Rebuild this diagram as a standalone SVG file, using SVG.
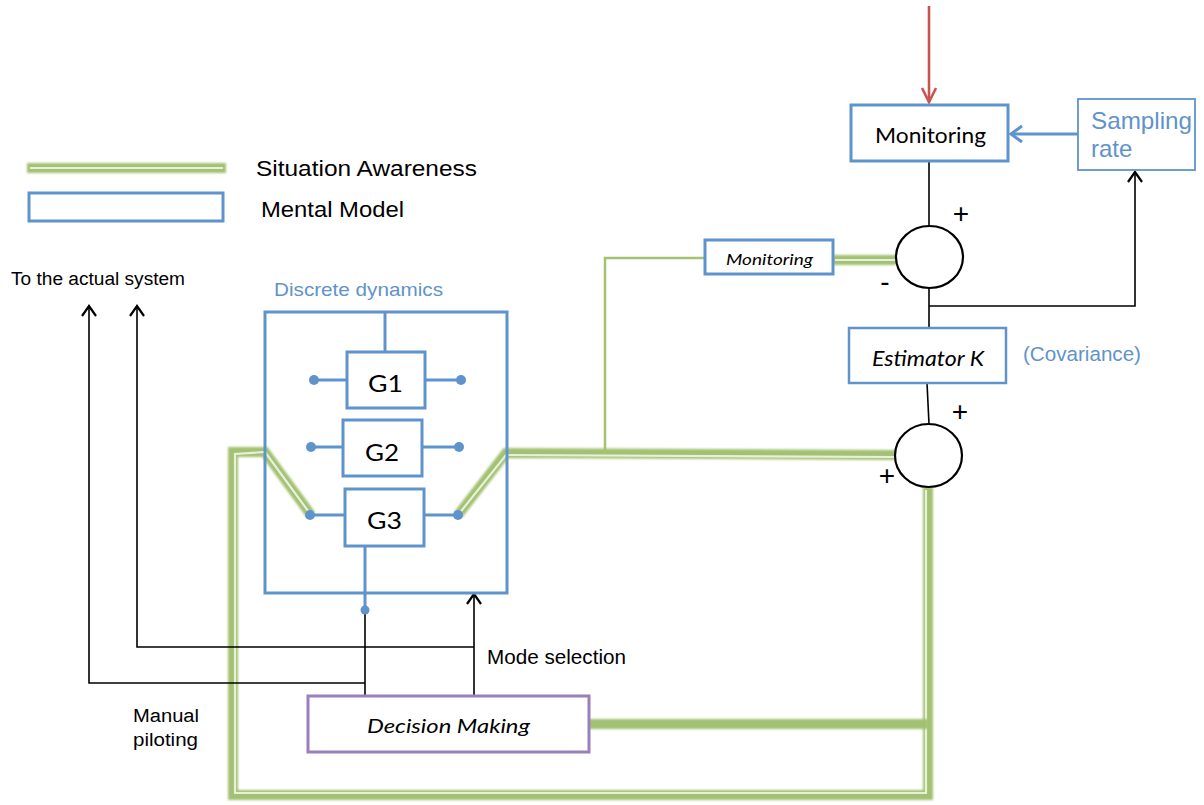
<svg xmlns="http://www.w3.org/2000/svg" width="1204" height="805" viewBox="0 0 1204 805">
  <style>
    .sans { font-family: "Liberation Sans", Arial, sans-serif; }
    .cal { font-family: Lato, "Open Sans", sans-serif; }
    .blue-box { fill: #ffffff; stroke: #5f93cc; stroke-width: 3; }
    .thin-blue { fill: #ffffff; stroke: #5f93cc; stroke-width: 1.8; }
    .blue-line { fill: none; stroke: #5f93cc; stroke-width: 3; }
    .dot { fill: #5f93cc; }
    .wire { fill: none; stroke: #000000; stroke-width: 1.6; }
    .sum { fill: #ffffff; stroke: #000000; stroke-width: 2.2; }
    .sign { font-family: "Liberation Sans", Arial, sans-serif; font-size: 28px; text-anchor: middle; }
    .sa-outer { fill: none; stroke: #a3c172; stroke-width: 10; stroke-linejoin: miter; filter: url(#soft); }
    .sa-inner { fill: none; stroke: #e8f0db; stroke-width: 2.2; stroke-linejoin: miter; }
    .sa-thin { fill: none; stroke: #a3c46f; stroke-width: 2.5; }
  </style>
  <defs>
    <filter id="soft" filterUnits="userSpaceOnUse" x="0" y="0" width="1204" height="805">
      <feGaussianBlur stdDeviation="1.3"/>
    </filter>
    <marker id="chev" markerUnits="userSpaceOnUse" markerWidth="20" markerHeight="20" refX="0" refY="0" viewBox="-12 -10 14 20" orient="auto">
      <path d="M-10,-7 L0,0 L-10,7" fill="none" stroke="#000000" stroke-width="2.2"/>
    </marker>
    <marker id="chev-red" markerUnits="userSpaceOnUse" markerWidth="20" markerHeight="20" refX="0" refY="0" viewBox="-16 -10 18 20" orient="auto">
      <path d="M-14,-7 L0,0 L-14,7" fill="none" stroke="#c9534f" stroke-width="2.6"/>
    </marker>
    <marker id="chev-blue" markerUnits="userSpaceOnUse" markerWidth="20" markerHeight="20" refX="0" refY="0" viewBox="-14 -10 16 20" orient="auto">
      <path d="M-11,-8 L0,0 L-11,8" fill="none" stroke="#5f93cc" stroke-width="3"/>
    </marker>
  </defs>

  <rect width="1204" height="805" fill="#ffffff"/>

  <!-- legend -->
  <g id="legend">
    <line class="sa-outer" x1="27" y1="168" x2="226" y2="168"/>
    <line class="sa-inner" x1="30" y1="168" x2="223" y2="168"/>
    <text class="sans" x="256" y="176" font-size="22" textLength="221" lengthAdjust="spacingAndGlyphs">Situation Awareness</text>
    <rect x="29" y="193" width="194" height="28" class="blue-box"/>
    <text class="sans" x="261" y="217" font-size="22" textLength="143" lengthAdjust="spacingAndGlyphs">Mental Model</text>
  </g>

  <!-- situation awareness paths -->
  <g id="situation-awareness">
    <path class="sa-outer" d="M311,515 L265,452 L233,452 L233,795 L928,795 L928,487"/>
    <path class="sa-inner" d="M311,515 L265,452 L235,454 L235,793 L926,793 L926,490"/>
    <path class="sa-outer" d="M458,515 L506,453 L895,455"/>
    <path class="sa-inner" d="M458,515 L506,455 L895,457"/>
    <path class="sa-outer" d="M589,724 L928,724"/>
    <path class="sa-thin" d="M605,454 L605,258 L705,258"/>
    <path class="sa-outer" d="M833,260 L896,260"/>
    <path class="sa-inner" d="M835,260 L896,260"/>
  </g>

  <!-- black signal connectors -->
  <g id="connectors">
    <path class="wire" d="M365,610 L365,696"/>
    <path class="wire" d="M365,683 L89,683 L89,306" marker-end="url(#chev)"/>
    <path class="wire" d="M474,696 L474,594" marker-end="url(#chev)"/>
    <path class="wire" d="M474,647 L137,647 L137,306" marker-end="url(#chev)"/>
    <path class="wire" d="M929,161 L929,226"/>
    <path class="wire" d="M929,288 L929,328"/>
    <path class="wire" d="M929,306 L1135,306 L1135,172" marker-end="url(#chev)"/>
    <path class="wire" d="M927,383 L929,424"/>
    <path d="M929,6 L929,102" fill="none" stroke="#c9534f" stroke-width="2.6" marker-end="url(#chev-red)"/>
    <path d="M1078,134 L1011,134" fill="none" stroke="#5f93cc" stroke-width="3.2" marker-end="url(#chev-blue)"/>
  </g>

  <text class="sans" x="11" y="285" font-size="18" textLength="174" lengthAdjust="spacingAndGlyphs">To the actual system</text>
  <text class="sans" x="487" y="664" font-size="19.5" textLength="139" lengthAdjust="spacingAndGlyphs">Mode selection</text>
  <text class="sans" x="133" y="722" font-size="18" textLength="66" lengthAdjust="spacingAndGlyphs">Manual</text>
  <text class="sans" x="133" y="746" font-size="18" textLength="65" lengthAdjust="spacingAndGlyphs">piloting</text>

  <!-- discrete dynamics -->
  <g id="discrete-dynamics">
    <text class="sans" x="274" y="296" font-size="19" fill="#5f93cc" textLength="169" lengthAdjust="spacingAndGlyphs">Discrete dynamics</text>
    <rect x="265" y="312" width="242" height="281" fill="none" stroke="#5f93cc" stroke-width="3"/>
    <line class="blue-line" x1="385" y1="312" x2="385" y2="352"/>
    <line class="blue-line" x1="365" y1="546" x2="365" y2="610"/>
    <circle class="dot" cx="365" cy="610" r="4.5"/>
  </g>

  <g id="g1">
    <line class="blue-line" x1="314" y1="380" x2="461" y2="380"/>
    <circle class="dot" cx="314" cy="380" r="5"/>
    <circle class="dot" cx="461" cy="380" r="5"/>
    <rect x="347" y="352" width="78" height="56" class="blue-box"/>
    <text class="cal" x="368" y="392" font-size="24" textLength="35" lengthAdjust="spacingAndGlyphs">G1</text>
  </g>

  <g id="g2">
    <line class="blue-line" x1="311" y1="447" x2="459" y2="447"/>
    <circle class="dot" cx="311" cy="447" r="5"/>
    <circle class="dot" cx="459" cy="447" r="5"/>
    <rect x="343" y="420" width="79" height="56" class="blue-box"/>
    <text class="cal" x="365" y="461" font-size="24" textLength="34" lengthAdjust="spacingAndGlyphs">G2</text>
  </g>

  <g id="g3">
    <line class="blue-line" x1="310" y1="515" x2="458" y2="515"/>
    <circle class="dot" cx="310" cy="515" r="5"/>
    <circle class="dot" cx="458" cy="515" r="5"/>
    <rect x="345" y="489" width="79" height="57" class="blue-box"/>
    <text class="cal" x="367" y="529" font-size="24" textLength="35" lengthAdjust="spacingAndGlyphs">G3</text>
  </g>

  <!-- decision making -->
  <g id="decision-making">
    <rect x="308" y="696" width="281" height="56" fill="#ffffff" stroke="#9a80b8" stroke-width="3"/>
    <text class="cal" x="367" y="733" font-size="20" font-style="italic" textLength="163" lengthAdjust="spacingAndGlyphs">Decision Making</text>
  </g>

  <!-- monitoring chain -->
  <g id="monitoring">
    <rect x="851" y="105" width="157" height="56" class="blue-box"/>
    <text class="cal" x="875" y="143" font-size="22" textLength="111" lengthAdjust="spacingAndGlyphs">Monitoring</text>
  </g>

  <g id="sampling-rate">
    <rect x="1078" y="99" width="117" height="71" class="thin-blue"/>
    <text class="sans" x="1091" y="129" font-size="24" fill="#5f93cc" textLength="101" lengthAdjust="spacingAndGlyphs">Sampling</text>
    <text class="sans" x="1091" y="157" font-size="24" fill="#5f93cc">rate</text>
  </g>

  <g id="monitoring-small">
    <rect x="705" y="240" width="128" height="34" class="blue-box"/>
    <text class="cal" x="726" y="265" font-size="16" font-style="italic" textLength="87" lengthAdjust="spacingAndGlyphs">Monitoring</text>
  </g>

  <g id="sum-upper">
    <ellipse class="sum" cx="929.5" cy="257" rx="33.5" ry="31"/>
    <text class="sign" x="961" y="223">+</text>
    <text class="sign" x="885" y="291">-</text>
  </g>

  <g id="estimator">
    <rect x="849" y="328" width="157" height="55" class="thin-blue" style="stroke-width:2.5"/>
    <text class="cal" x="872" y="366" font-size="21" font-style="italic" textLength="112" lengthAdjust="spacingAndGlyphs">Estimator K</text>
    <text class="sans" x="1023" y="361" font-size="20.5" fill="#5f93cc" textLength="118" lengthAdjust="spacingAndGlyphs">(Covariance)</text>
  </g>

  <g id="sum-lower">
    <ellipse class="sum" cx="928.5" cy="455.5" rx="33.5" ry="31.5"/>
    <text class="sign" x="960" y="421">+</text>
    <text class="sign" x="887" y="485">+</text>
  </g>
</svg>
